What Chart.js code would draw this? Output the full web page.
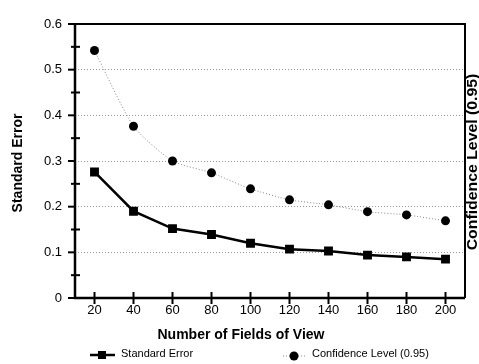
<!DOCTYPE html>
<html>
<head>
<meta charset="utf-8">
<script src="https://cdn.jsdelivr.net/npm/chart.js@4.4.1/dist/chart.umd.min.js"></script>
<style>
html,body{margin:0;padding:0;background:#fff;}
#wrap{width:479px;height:364px;position:relative;}
</style>
</head>
<body>
<div id="wrap"><canvas id="c" width="479" height="364"></canvas></div>
<script>
const fieldsOfView = [20, 40, 60, 80, 100, 120, 140, 160, 180, 200];
const standardError = [0.276, 0.190, 0.152, 0.139, 0.120, 0.107, 0.103, 0.094, 0.090, 0.085];
const confidenceLevel = [0.542, 0.376, 0.300, 0.274, 0.239, 0.215, 0.204, 0.189, 0.182, 0.169];
const yTicks = [0, 0.1, 0.2, 0.3, 0.4, 0.5, 0.6];
const yMinorTicks = [0.05, 0.15, 0.25, 0.35, 0.45, 0.55];

const FONT = "'Liberation Sans', Arial, sans-serif";

const decor = {
  id: 'decor',
  afterDatasetsDraw(chart) {
    const ctx = chart.ctx;
    const a = chart.chartArea;
    const xs = chart.scales.x, ys = chart.scales.y;
    ctx.save();
    ctx.strokeStyle = '#000';
    ctx.lineWidth = 2;
    ctx.beginPath();
    ctx.moveTo(a.left, a.top); ctx.lineTo(a.right, a.top); ctx.lineTo(a.right, a.bottom);
    ctx.stroke();
    ctx.lineWidth = 2.5;
    ctx.beginPath();
    ctx.moveTo(a.left, a.top); ctx.lineTo(a.left, a.bottom); ctx.lineTo(a.right, a.bottom);
    ctx.stroke();
    ctx.lineWidth = 2;
    yTicks.forEach(v => {
      const y = ys.getPixelForValue(v);
      ctx.beginPath(); ctx.moveTo(a.left - 7, y); ctx.lineTo(a.left + 1, y); ctx.stroke();
    });
    yMinorTicks.forEach(v => {
      const y = ys.getPixelForValue(v);
      ctx.beginPath(); ctx.moveTo(a.left - 4, y); ctx.lineTo(a.left + 5, y); ctx.stroke();
    });
    fieldsOfView.forEach(v => {
      const x = xs.getPixelForValue(v);
      ctx.beginPath(); ctx.moveTo(x, a.bottom - 6); ctx.lineTo(x, a.bottom + 6); ctx.stroke();
    });
    ctx.fillStyle = '#000';
    ctx.textAlign = 'center';
    ctx.textBaseline = 'middle';
    ctx.font = 'bold 14px ' + FONT;
    ctx.save(); ctx.translate(18, 163); ctx.rotate(-Math.PI/2); ctx.fillText('Standard Error', 0, 0); ctx.restore();
    ctx.font = 'bold 14px ' + FONT;
    ctx.save(); ctx.translate(473.5, 162); ctx.rotate(-Math.PI/2); ctx.scale(1.13, 1); ctx.fillText('Confidence Level (0.95)', 0, 0); ctx.restore();
    ctx.font = 'bold 14px ' + FONT;
    ctx.fillText('Number of Fields of View', 241, 335);
    const ly = 354;
    ctx.lineWidth = 2.5;
    ctx.beginPath(); ctx.moveTo(90, ly+1); ctx.lineTo(115, ly+1); ctx.stroke();
    ctx.fillRect(98, ly - 3, 8, 8);
    ctx.font = '11px ' + FONT;
    ctx.textAlign = 'left';
    ctx.fillText('Standard Error', 121, ly);
    ctx.strokeStyle = '#888';
    ctx.lineWidth = 1;
    ctx.setLineDash([1, 2]);
    ctx.beginPath(); ctx.moveTo(283, ly+2); ctx.lineTo(307, ly+2); ctx.stroke();
    ctx.setLineDash([]);
    ctx.beginPath(); ctx.arc(294, ly + 2, 4.5, 0, Math.PI*2); ctx.fill();
    ctx.fillText('Confidence Level (0.95)', 312, ly);
    ctx.restore();
  }
};

new Chart(document.getElementById('c'), {
  type: 'line',
  data: {
    datasets: [
      {
        label: 'Standard Error',
        data: fieldsOfView.map((x, i) => ({x, y: standardError[i]})),
        borderColor: '#000', backgroundColor: '#000',
        borderWidth: 2.5, pointStyle: 'rect', pointRadius: 4.5,
        tension: 0
      },
      {
        label: 'Confidence Level (0.95)',
        data: fieldsOfView.map((x, i) => ({x, y: confidenceLevel[i]})),
        borderColor: '#888', backgroundColor: '#000',
        borderWidth: 1, borderDash: [1, 2], pointStyle: 'circle', pointRadius: 4.5,
        pointBorderColor: '#000', pointBorderWidth: 0,
        tension: 0.2
      }
    ]
  },
  options: {
    responsive: false,
    animation: false,
    events: [],
    layout: { padding: { left: 0, right: 14, top: 24, bottom: 0 } },
    plugins: { legend: { display: false }, tooltip: { enabled: false } },
    scales: {
      x: {
        type: 'linear', min: 10, max: 210,
        afterBuildTicks: s => { s.ticks = fieldsOfView.map(v => ({value: v})); },
        afterFit: s => { s.height = 66; },
        grid: { display: false, drawTicks: false },
        border: { display: false },
        ticks: { color: '#000', font: { family: FONT, size: 13 }, padding: 5, maxRotation: 0, autoSkip: false }
      },
      y: {
        min: 0, max: 0.6,
        afterBuildTicks: s => { s.ticks = yTicks.map(v => ({value: v})); },
        afterFit: s => { s.width = 75; },
        grid: { color: '#999', lineWidth: 1, drawTicks: false },
        border: { display: false, dash: [1, 2] },
        ticks: { color: '#000', font: { family: FONT, size: 13 }, padding: 13,
          callback: v => (v === 0 ? '0' : v.toFixed(1)) }
      }
    }
  },
  plugins: [decor]
});
</script>
</body>
</html>
